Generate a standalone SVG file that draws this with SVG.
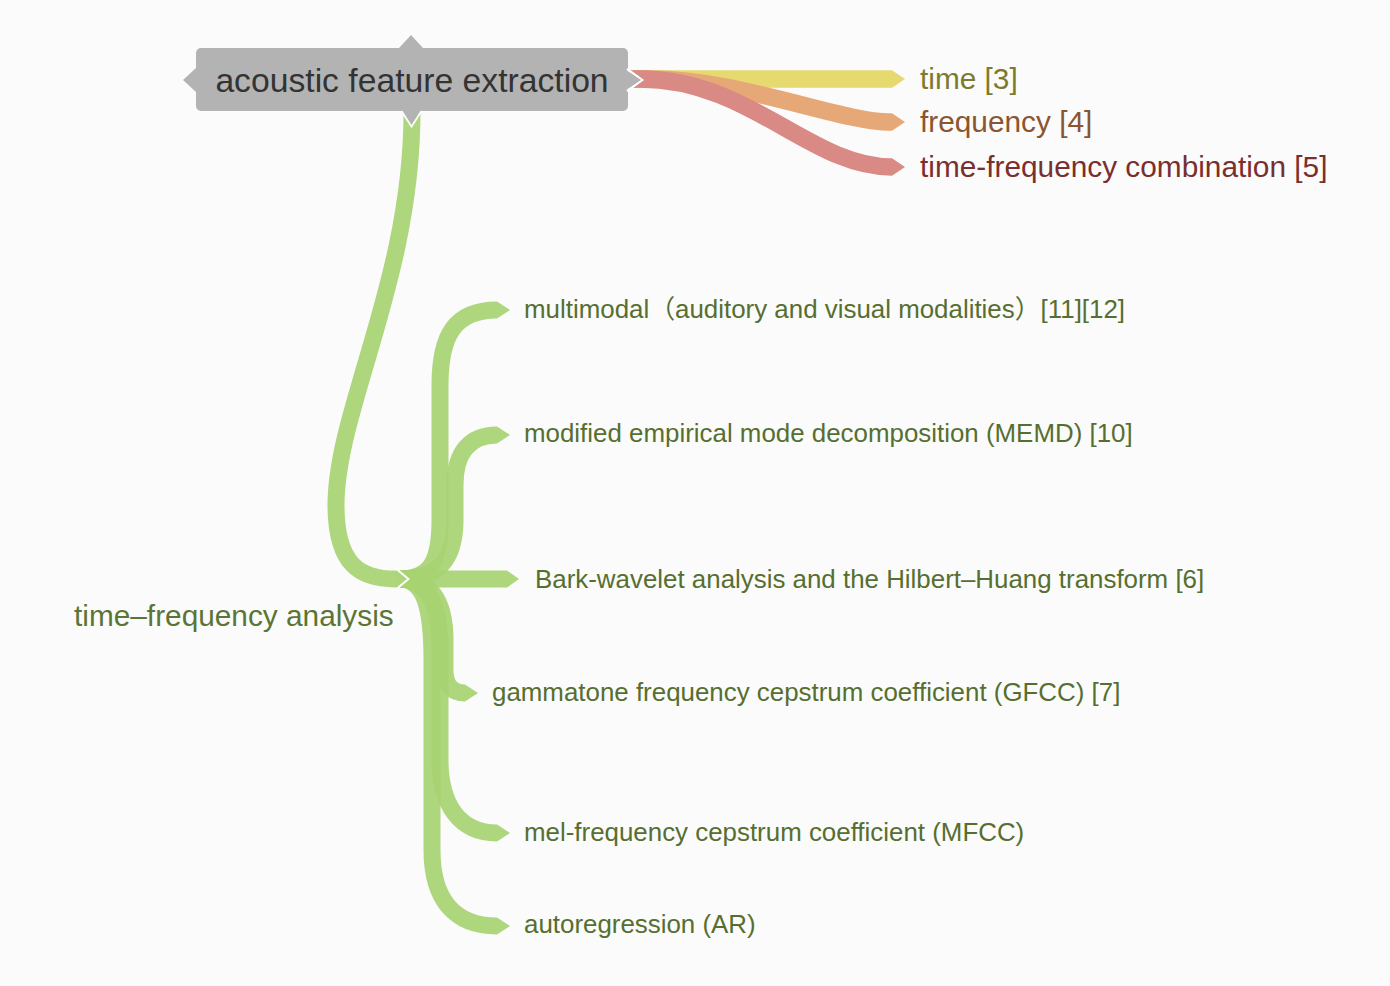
<svg xmlns="http://www.w3.org/2000/svg" width="1390" height="986" viewBox="0 0 1390 986">
<style>
.rib{fill:none;stroke-linecap:butt;stroke-linejoin:round}
.g{stroke:#a7d371;stroke-opacity:0.92;stroke-width:17}
.gt{fill:#a7d371;fill-opacity:0.92}
.lbl{font-family:"Liberation Sans",Arial,"Noto Sans CJK SC",sans-serif}
.child{font-size:25.9px;fill:#566f30}
.top{font-size:29.8px}
.notch{fill:none;stroke:#ffffff;stroke-width:2.5;stroke-linejoin:miter}
</style>
<rect x="0" y="0" width="1390" height="986" fill="#fbfbfb"/>
<g id="connectors">
  <path class="rib" d="M630,79 H892" stroke="#e6d96f" stroke-width="17.5"/>
  <polygon points="892,70.25 905,79 892,87.75" fill="#e6d96f"/>
  <path class="rib" d="M630,79 H650 C740,79 840,122 890,122 H892" stroke="#e6a877" stroke-width="17.5"/>
  <polygon points="892,113.25 905,122 892,130.75" fill="#e6a877"/>
  <path class="rib" d="M630,79 H640 C750,79 810,167 892,167" stroke="#d98a84" stroke-width="17.5"/>
  <polygon points="892,158.25 905,167 892,175.75" fill="#d98a84"/>
  <path class="rib g" d="M412,112 C412,280 336,410 336,505 C336,565 360,579 396,579" stroke-width="18"/>
  <path class="rib g" d="M400,579 C428,579 440,565 440,520 L440,385 C440,335 455,310 497,310"/>
  <polygon class="gt" points="497,301.5 510,310 497,318.5"/>
  <path class="rib g" d="M400,579 C438,579 455,560 455,520 L455,485 C455,452 470,435 497,435"/>
  <polygon class="gt" points="497,426.5 510,435 497,443.5"/>
  <path class="rib g" d="M400,579 H507"/>
  <polygon class="gt" points="507,570.5 519,579 507,587.5"/>
  <path class="rib g" d="M400,579 C430,579 445,600 445,640 L445,670 C445,685 452,693 465,693"/>
  <polygon class="gt" points="465,684.5 478,693 465,701.5"/>
  <path class="rib g" d="M400,579 C430,579 440,610 440,650 L440,760 C440,805 460,833 497,833"/>
  <polygon class="gt" points="497,824.5 510,833 497,841.5"/>
  <path class="rib g" d="M400,579 C425,579 432,610 432,660 L432,850 C432,900 455,926 497,926"/>
  <polygon class="gt" points="497,917.5 510,926 497,934.5"/>
  <polyline class="notch" points="396,569 408,579 396,589"/>
  <polygon points="396,570 407,579 396,588" fill="#add57b"/>
</g>
<g id="node-root">
  <rect x="196" y="48" width="432" height="63" rx="5" fill="#b3b3b3"/>
  <polygon points="399,48 411,35 423,48" fill="#b3b3b3"/>
  <polygon points="196,68 183,80 196,92" fill="#b3b3b3"/>
  <polyline class="notch" points="402,111 411.5,126 421,111"/>
  <polygon points="402,110 411.5,125 421,110" fill="#b3b3b3"/>
  <polyline class="notch" points="627,69 642,80 627,91"/>
  <polygon points="626,70 641,80 626,90" fill="#b3b3b3"/>
  <text class="lbl" x="412" y="92" font-size="33.7" fill="#333333" text-anchor="middle">acoustic feature extraction</text>
</g>
<g id="node-time"><text class="lbl top" x="920" y="89" fill="#7d7a2e">time [3]</text></g>
<g id="node-frequency"><text class="lbl top" x="920" y="132" fill="#8a5530">frequency [4]</text></g>
<g id="node-tfc"><text class="lbl top" x="920" y="177" fill="#7a2e2e">time-frequency combination [5]</text></g>
<g id="node-tfa"><text class="lbl top" x="74" y="626" fill="#5a7535">time–frequency analysis</text></g>
<g id="node-multimodal"><text class="lbl child" x="524" y="318">multimodal（auditory and visual modalities）[11][12]</text></g>
<g id="node-memd"><text class="lbl child" x="524" y="442">modified empirical mode decomposition (MEMD) [10]</text></g>
<g id="node-bark"><text class="lbl child" x="535" y="588">Bark-wavelet analysis and the Hilbert–Huang transform [6]</text></g>
<g id="node-gfcc"><text class="lbl child" x="492" y="701">gammatone frequency cepstrum coefficient (GFCC) [7]</text></g>
<g id="node-mfcc"><text class="lbl child" x="524" y="841">mel-frequency cepstrum coefficient (MFCC)</text></g>
<g id="node-ar"><text class="lbl child" x="524" y="933">autoregression (AR)</text></g>
</svg>
